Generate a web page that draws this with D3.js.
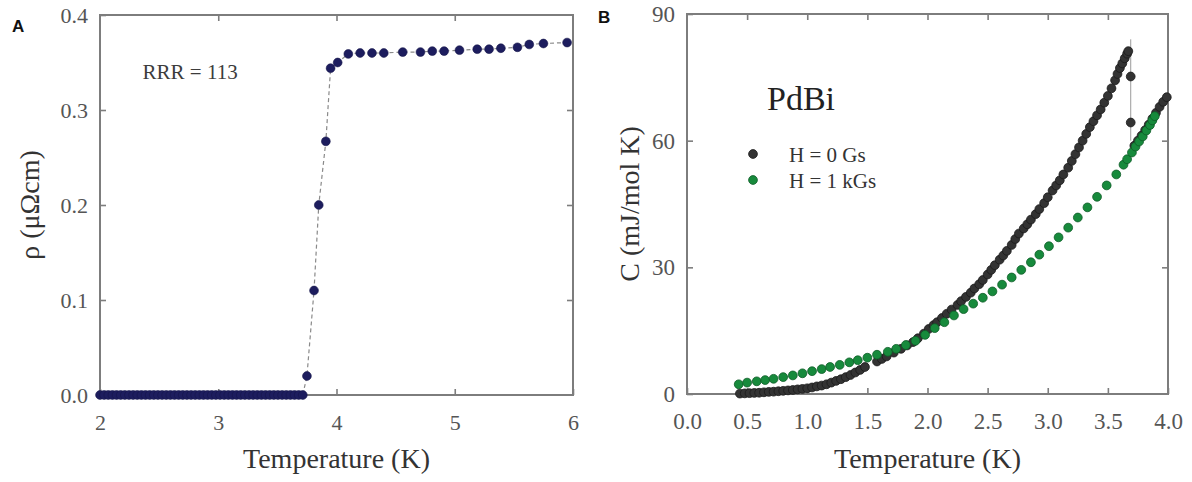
<!DOCTYPE html>
<html>
<head>
<meta charset="utf-8">
<script src="https://cdn.jsdelivr.net/npm/d3@7"></script>
<style>
  html, body { margin: 0; padding: 0; background: #fff; }
  svg { display: block; }
</style>
</head>
<body>
<svg id="chart" width="1192" height="482"></svg>
<script>
// ---------- Panel A data : resistivity ----------
const rhoTemp = [
  2.000, 2.035, 2.070, 2.105, 2.140, 2.175, 2.210, 2.245, 2.280, 2.315,
  2.350, 2.385, 2.420, 2.455, 2.490, 2.525, 2.560, 2.595, 2.630, 2.665,
  2.700, 2.735, 2.770, 2.805, 2.840, 2.875, 2.910, 2.945, 2.980, 3.015,
  3.050, 3.085, 3.120, 3.155, 3.190, 3.225, 3.260, 3.295, 3.330, 3.365,
  3.400, 3.435, 3.470, 3.505, 3.540, 3.575, 3.610, 3.645, 3.680, 3.715,
  3.75, 3.81, 3.85, 3.91, 3.95, 4.01,
  4.10, 4.20, 4.30, 4.40, 4.56, 4.71, 4.81, 4.91, 5.04, 5.19, 5.29, 5.39, 5.53, 5.63, 5.75, 5.95
];
const rhoValues = [
  0, 0, 0, 0, 0, 0, 0, 0, 0, 0,
  0, 0, 0, 0, 0, 0, 0, 0, 0, 0,
  0, 0, 0, 0, 0, 0, 0, 0, 0, 0,
  0, 0, 0, 0, 0, 0, 0, 0, 0, 0,
  0, 0, 0, 0, 0, 0, 0, 0, 0, 0,
  0.020, 0.110, 0.200, 0.267, 0.344, 0.350,
  0.359, 0.360, 0.360, 0.360, 0.361, 0.361, 0.362, 0.362, 0.363, 0.364, 0.364, 0.365, 0.366, 0.369, 0.370, 0.371
];
const rhoXTicks = [2, 3, 4, 5, 6];
const rhoYTicks = [0.0, 0.1, 0.2, 0.3, 0.4];

// ---------- Panel B data : specific heat ----------
const zeroFieldTemp = [
  0.44, 0.48, 0.52, 0.56, 0.60, 0.64, 0.68, 0.72, 0.76, 0.80,
  0.84, 0.88, 0.92, 0.96, 1.00, 1.04, 1.08, 1.12, 1.16, 1.20,
  1.24, 1.28, 1.32, 1.36, 1.40, 1.44, 1.48,
  1.58, 1.62, 1.66, 1.72, 1.78, 1.83, 1.88, 1.92, 1.97, 2.01,
  2.05, 2.08, 2.12, 2.16, 2.20, 2.25, 2.28, 2.32, 2.36, 2.39,
  2.43, 2.46, 2.50, 2.53, 2.56, 2.60, 2.63, 2.66, 2.70, 2.73,
  2.76, 2.80, 2.83, 2.86, 2.90, 2.93, 2.97, 3.00, 3.04, 3.07,
  3.10, 3.13, 3.17, 3.20, 3.23, 3.26, 3.29, 3.32, 3.35, 3.38,
  3.41, 3.44, 3.47, 3.50, 3.53, 3.56, 3.58, 3.60, 3.62, 3.64,
  3.66, 3.67,
  3.69, 3.69, 3.72, 3.75, 3.78, 3.81, 3.84, 3.87, 3.90, 3.93, 3.96, 3.99
];
const zeroFieldC = [
  0.1, 0.15, 0.2, 0.25, 0.3, 0.4, 0.5, 0.55, 0.65, 0.75,
  0.85, 0.95, 1.1, 1.2, 1.35, 1.55, 1.8, 2.0, 2.3, 2.7,
  3.1, 3.5, 4.0, 4.5, 5.1, 5.7, 6.4,
  7.7, 8.3, 8.9, 9.8, 10.7, 11.5, 12.3, 13.2, 14.3, 15.4,
  16.3, 17.0, 18.0, 19.0, 20.0, 21.1, 22.0, 23.0, 24.0, 25.0,
  26.0, 27.0, 28.3, 29.4, 30.5, 31.8, 32.8, 33.9, 35.3, 36.7,
  38.0, 39.2, 40.2, 41.3, 42.6, 43.8, 45.2, 46.6, 48.2, 49.4,
  50.6, 52.0, 53.6, 55.2, 56.8, 58.4, 60.0, 61.6, 63.2, 64.6,
  66.0, 67.4, 69.0, 70.6, 72.4, 74.3, 75.8, 77.2, 78.3, 79.5,
  80.6, 81.2,
  75.2, 64.3, 58.8, 60.0, 61.2, 62.5, 63.8, 65.2, 66.6, 68.0, 69.2, 70.3
];
const fieldTemp = [
  0.43, 0.50, 0.58, 0.65, 0.72, 0.80, 0.88, 0.96, 1.04, 1.12,
  1.19, 1.27, 1.35, 1.42, 1.50, 1.58, 1.67, 1.74, 1.82, 1.90,
  1.98, 2.06, 2.14, 2.22, 2.30, 2.38, 2.46, 2.54, 2.62, 2.70,
  2.78, 2.86, 2.93, 3.01, 3.09, 3.17, 3.25, 3.33, 3.41, 3.49,
  3.57, 3.63, 3.66, 3.70, 3.73, 3.76, 3.79, 3.82, 3.85, 3.87,
  3.89
];
const fieldC = [
  2.3, 2.7, 3.0, 3.3, 3.6, 4.0, 4.4, 4.9, 5.4, 5.9,
  6.4, 6.9, 7.5, 8.0, 8.6, 9.3, 10.0, 10.7, 11.6, 12.6,
  14.0, 15.6, 17.0, 18.6, 20.1, 21.4, 22.8, 24.3, 25.9, 27.6,
  29.4, 31.2, 33.0, 35.0, 37.1, 39.4, 41.8, 44.2, 46.7, 49.4,
  52.0, 54.3, 55.6, 57.2, 58.6, 59.8, 61.0, 62.4, 63.7, 64.8,
  65.8
];
const jumpTemp = 3.69;
const jumpC = [60, 84];
const heatXTicks = [0.0, 0.5, 1.0, 1.5, 2.0, 2.5, 3.0, 3.5, 4.0];
const heatYTicks = [0, 30, 60, 90];
const legendLabels = ["H = 0 Gs", "H = 1 kGs"];

// ---------- styles ----------
const SERIF = "'Liberation Serif', 'Times New Roman', serif";
const SANS = "'Liberation Sans', Arial, sans-serif";
const AXIS = "#7d7d7d";
const TICKTXT = "#555555";
const TITLE = "#333333";
const NAVY = "#1d1d5e";
const DARK = "#333333";
const DARK_EDGE = "#1b1b1b";
const GREEN = "#178a3c";
const GREEN_EDGE = "#0e5c27";

const svg = d3.select("#chart");
svg.append("rect").attr("width", 1192).attr("height", 482).attr("fill", "#fff");

function frameAxes(g, x, y, w, h, xt, yt, xfmt, yfmt, fs) {
  g.append("g").attr("transform", `translate(0,${h})`)
    .call(d3.axisBottom(x).tickValues(xt).tickFormat(xfmt).tickSizeInner(-6).tickSizeOuter(0).tickPadding(19))
    .call(s => s.select(".domain").remove());
  g.append("g")
    .call(d3.axisTop(x).tickValues(xt.slice(1, -1)).tickFormat("").tickSizeInner(-6).tickSizeOuter(0))
    .call(s => s.select(".domain").remove());
  g.append("g")
    .call(d3.axisLeft(y).tickValues(yt).tickFormat(yfmt).tickSizeInner(-6).tickSizeOuter(0).tickPadding(12))
    .call(s => s.select(".domain").remove());
  g.append("g").attr("transform", `translate(${w},0)`)
    .call(d3.axisRight(y).tickValues(yt.slice(1, -1)).tickFormat("").tickSizeInner(-6).tickSizeOuter(0))
    .call(s => s.select(".domain").remove());
  g.selectAll(".tick line").attr("stroke", AXIS).attr("stroke-width", 1.6);
  g.selectAll(".tick text").attr("fill", TICKTXT).attr("font-size", fs)
    .attr("font-family", SERIF);
  g.append("rect").attr("width", w).attr("height", h)
    .attr("fill", "none").attr("stroke", AXIS).attr("stroke-width", 2);
}

// ================= Panel A =================
{
  const L = 100, T = 15, W = 473, H = 380;
  const g = svg.append("g").attr("transform", `translate(${L},${T})`);
  const x = d3.scaleLinear().domain([2, 6]).range([0, W]);
  const y = d3.scaleLinear().domain([0, 0.4]).range([H, 0]);
  const pts = rhoTemp.map((t, i) => [t, rhoValues[i]]);

  frameAxes(g, x, y, W, H, rhoXTicks, rhoYTicks, d3.format("d"), d3.format(".1f"), 22);

  g.append("path").datum(pts)
    .attr("d", d3.line().x(d => x(d[0])).y(d => y(d[1])))
    .attr("fill", "none").attr("stroke", "#8a8a8a").attr("stroke-width", 1.2)
    .attr("stroke-dasharray", "4,3");
  g.append("g").selectAll("circle").data(pts).join("circle")
    .attr("cx", d => x(d[0])).attr("cy", d => y(d[1])).attr("r", 4.4)
    .attr("fill", NAVY).attr("stroke", "#15154a").attr("stroke-width", 0.6);

  g.append("text").attr("x", x(2.36)).attr("y", y(0.3325))
    .attr("font-family", SERIF).attr("font-size", 21).attr("fill", "#3c3c3c").text("RRR = 113");

  svg.append("text").attr("x", 12).attr("y", 32)
    .attr("font-family", SANS).attr("font-weight", "bold")
    .attr("font-size", 17).attr("fill", "#111").text("A");

  svg.append("text").attr("x", L + W / 2).attr("y", 468).attr("text-anchor", "middle")
    .attr("font-family", SERIF).attr("font-size", 28).attr("fill", TITLE).text("Temperature (K)");
  svg.append("text").attr("transform", `translate(39,${T + H / 2}) rotate(-90)`)
    .attr("text-anchor", "middle").attr("font-family", SERIF)
    .attr("font-size", 28).attr("fill", TITLE).text("ρ (μΩcm)");
}

// ================= Panel B =================
{
  const L = 687, T = 14, W = 481, H = 380;
  const g = svg.append("g").attr("transform", `translate(${L},${T})`);
  const x = d3.scaleLinear().domain([0, 4]).range([0, W]);
  const y = d3.scaleLinear().domain([0, 90]).range([H, 0]);

  frameAxes(g, x, y, W, H, heatXTicks, heatYTicks, d3.format(".1f"), d3.format("d"), 23);

  g.append("line")
    .attr("x1", x(jumpTemp)).attr("x2", x(jumpTemp))
    .attr("y1", y(jumpC[0])).attr("y2", y(jumpC[1]))
    .attr("stroke", "#9a9a9a").attr("stroke-width", 1);

  const zf = zeroFieldTemp.map((t, i) => [t, zeroFieldC[i]]);
  const hf = fieldTemp.map((t, i) => [t, fieldC[i]]);
  g.append("g").selectAll("circle").data(zf).join("circle")
    .attr("cx", d => x(d[0])).attr("cy", d => y(d[1])).attr("r", 4.4)
    .attr("fill", DARK).attr("stroke", DARK_EDGE).attr("stroke-width", 0.8);
  g.append("g").selectAll("circle").data(hf).join("circle")
    .attr("cx", d => x(d[0])).attr("cy", d => y(d[1])).attr("r", 4.4)
    .attr("fill", GREEN).attr("stroke", GREEN_EDGE).attr("stroke-width", 0.8);

  g.append("text").attr("x", 767 - L).attr("y", 110 - T)
    .attr("font-family", SERIF).attr("font-size", 34).attr("fill", "#222").text("PdBi");

  const legCols = [[DARK, DARK_EDGE], [GREEN, GREEN_EDGE]];
  legendLabels.forEach((lab, i) => {
    const yy = 154 - T + i * 26;
    g.append("circle").attr("cx", 753 - L).attr("cy", yy).attr("r", 4.4)
      .attr("fill", legCols[i][0]).attr("stroke", legCols[i][1]).attr("stroke-width", 0.8);
    g.append("text").attr("x", 789 - L).attr("y", yy + 7.5)
      .attr("font-family", SERIF).attr("font-size", 21).attr("fill", "#333").text(lab);
  });

  svg.append("text").attr("x", 598).attr("y", 23)
    .attr("font-family", SANS).attr("font-weight", "bold")
    .attr("font-size", 17).attr("fill", "#111").text("B");

  svg.append("text").attr("x", L + W / 2).attr("y", 468).attr("text-anchor", "middle")
    .attr("font-family", SERIF).attr("font-size", 28).attr("fill", TITLE).text("Temperature (K)");
  svg.append("text").attr("transform", `translate(639,${T + H / 2}) rotate(-90)`)
    .attr("text-anchor", "middle").attr("font-family", SERIF)
    .attr("font-size", 28).attr("fill", TITLE).text("C (mJ/mol K)");
}
</script>
</body>
</html>
